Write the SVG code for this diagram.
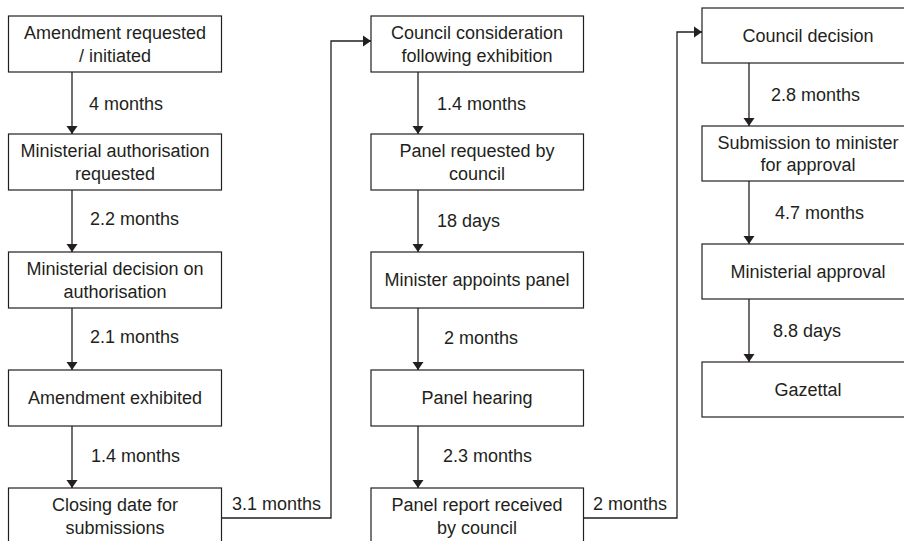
<svg xmlns="http://www.w3.org/2000/svg" width="904" height="541" viewBox="0 0 904 541">
<style>
.box{fill:#fff;stroke:#231f20;stroke-width:1.2}
.t{font-family:"Liberation Sans",Arial,sans-serif;font-size:18px;fill:#231f20;text-anchor:middle}
.l{font-family:"Liberation Sans",Arial,sans-serif;font-size:18px;fill:#231f20;text-anchor:start}
.c{fill:none;stroke:#231f20;stroke-width:1.3}
</style>
<defs>
<marker id="ah" markerUnits="userSpaceOnUse" markerWidth="12" markerHeight="12" viewBox="0 0 12 12" refX="9" refY="6" orient="auto">
<path d="M1,0.5 L9,6 L1,11.5 Z" fill="#231f20"/>
</marker>
</defs>
<rect width="904" height="541" fill="#fff"/>
<g id="connectors">
<line class="c" x1="72" y1="72" x2="72" y2="134" marker-end="url(#ah)"/>
<line class="c" x1="72" y1="190" x2="72" y2="252" marker-end="url(#ah)"/>
<line class="c" x1="72" y1="308" x2="72" y2="370" marker-end="url(#ah)"/>
<line class="c" x1="72" y1="426" x2="72" y2="488" marker-end="url(#ah)"/>
<polyline class="c" points="221.5,518 331,518 331,41 371,41" marker-end="url(#ah)"/>
<line class="c" x1="418" y1="72" x2="418" y2="134" marker-end="url(#ah)"/>
<line class="c" x1="418" y1="190" x2="418" y2="252" marker-end="url(#ah)"/>
<line class="c" x1="418" y1="308" x2="418" y2="370" marker-end="url(#ah)"/>
<line class="c" x1="418" y1="426" x2="418" y2="488" marker-end="url(#ah)"/>
<polyline class="c" points="583.5,518 677,518 677,32 702,32" marker-end="url(#ah)"/>
<line class="c" x1="749" y1="63" x2="749" y2="126" marker-end="url(#ah)"/>
<line class="c" x1="749" y1="181" x2="749" y2="244" marker-end="url(#ah)"/>
<line class="c" x1="749" y1="299" x2="749" y2="362" marker-end="url(#ah)"/>
<text class="l" x="89" y="110">4 months</text>
<text class="l" x="90" y="225">2.2 months</text>
<text class="l" x="90" y="343">2.1 months</text>
<text class="l" x="91" y="462">1.4 months</text>
<text class="l" x="232" y="510">3.1 months</text>
<text class="l" x="437" y="110">1.4 months</text>
<text class="l" x="437" y="227">18 days</text>
<text class="l" x="444" y="344">2 months</text>
<text class="l" x="443" y="462">2.3 months</text>
<text class="l" x="593" y="510">2 months</text>
<text class="l" x="771" y="101">2.8 months</text>
<text class="l" x="775" y="219">4.7 months</text>
<text class="l" x="773" y="337">8.8 days</text>
</g>
<g id="n1"><rect class="box" x="8.5" y="16" width="213" height="56"/><text class="t" x="115" y="39.3">Amendment requested</text><text class="t" x="115" y="61.7">/ initiated</text></g>
<g id="n2"><rect class="box" x="8.5" y="134" width="213" height="56"/><text class="t" x="115" y="157.3">Ministerial authorisation</text><text class="t" x="115" y="179.7">requested</text></g>
<g id="n3"><rect class="box" x="8.5" y="252" width="213" height="56"/><text class="t" x="115" y="275.3">Ministerial decision on</text><text class="t" x="115" y="297.7">authorisation</text></g>
<g id="n4"><rect class="box" x="8.5" y="370" width="213" height="56"/><text class="t" x="115" y="404">Amendment exhibited</text></g>
<g id="n5"><rect class="box" x="8.5" y="488" width="213" height="60"/><text class="t" x="115" y="511.3">Closing date for</text><text class="t" x="115" y="533.7">submissions</text></g>
<g id="n6"><rect class="box" x="371" y="16" width="212.5" height="56"/><text class="t" x="477" y="39.3">Council consideration</text><text class="t" x="477" y="61.7">following exhibition</text></g>
<g id="n7"><rect class="box" x="371" y="134" width="212.5" height="56"/><text class="t" x="477" y="157.3">Panel requested by</text><text class="t" x="477" y="179.7">council</text></g>
<g id="n8"><rect class="box" x="371" y="252" width="212.5" height="56"/><text class="t" x="477" y="286">Minister appoints panel</text></g>
<g id="n9"><rect class="box" x="371" y="370" width="212.5" height="56"/><text class="t" x="477" y="404">Panel hearing</text></g>
<g id="n10"><rect class="box" x="371" y="488" width="212.5" height="60"/><text class="t" x="477" y="511.3">Panel report received</text><text class="t" x="477" y="533.7">by council</text></g>
<g id="n11"><rect class="box" x="702" y="8" width="213" height="55"/><text class="t" x="808" y="41.5">Council decision</text></g>
<g id="n12"><rect class="box" x="702" y="126" width="213" height="55"/><text class="t" x="808" y="148.8">Submission to minister</text><text class="t" x="808" y="171.2">for approval</text></g>
<g id="n13"><rect class="box" x="702" y="244" width="213" height="55"/><text class="t" x="808" y="277.5">Ministerial approval</text></g>
<g id="n14"><rect class="box" x="702" y="362" width="213" height="55"/><text class="t" x="808" y="395.5">Gazettal</text></g>
</svg>
